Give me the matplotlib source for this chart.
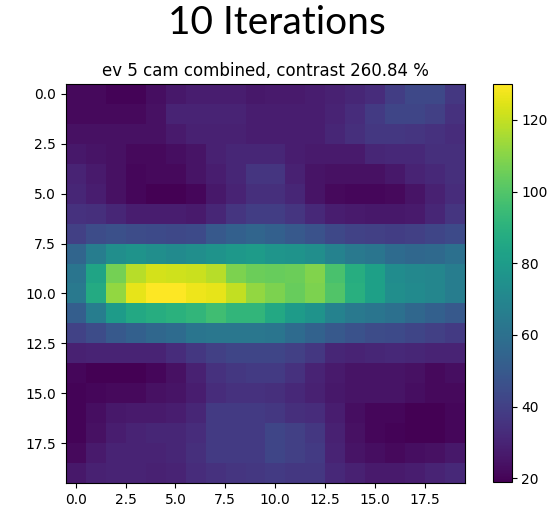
import numpy as np
import matplotlib
matplotlib.use("Agg")
import matplotlib.pyplot as plt

# per-pixel intensity (rows top to bottom)
counts = [
    [22, 22, 20, 20, 23, 26, 28, 28, 28, 26, 27, 27, 28, 29, 31, 33, 39, 43, 43, 37],
    [22, 22, 22, 22, 24, 30, 30, 30, 30, 28, 28, 28, 28, 30, 33, 38, 42, 42, 40, 35],
    [24, 24, 24, 24, 24, 27, 29, 29, 29, 28, 28, 28, 28, 31, 34, 37, 37, 36, 35, 33],
    [26, 25, 24, 22, 22, 23, 25, 29, 31, 31, 31, 28, 27, 27, 27, 31, 32, 32, 34, 34],
    [30, 27, 24, 21, 22, 22, 25, 28, 31, 36, 36, 29, 25, 24, 24, 24, 26, 30, 32, 34],
    [31, 28, 24, 21, 19, 19, 21, 26, 30, 34, 34, 31, 25, 22, 21, 21, 22, 25, 29, 33],
    [35, 34, 31, 28, 28, 28, 27, 31, 36, 39, 39, 36, 32, 28, 27, 26, 26, 27, 31, 36],
    [40, 45, 46, 45, 44, 43, 44, 50, 53, 55, 53, 50, 47, 43, 41, 40, 39, 40, 42, 44],
    [55, 66, 74, 76, 74, 72, 74, 76, 78, 80, 77, 76, 74, 68, 64, 62, 58, 56, 57, 60],
    [62, 84, 107, 118, 123, 122, 121, 118, 108, 105, 104, 105, 109, 98, 88, 82, 73, 71, 70, 66],
    [64, 87, 112, 126, 130, 130, 127, 126, 120, 112, 108, 104, 108, 100, 89, 82, 74, 72, 70, 66],
    [52, 66, 80, 86, 88, 90, 92, 96, 92, 92, 86, 80, 76, 68, 64, 62, 60, 56, 53, 50],
    [41, 45, 50, 53, 56, 58, 62, 63, 63, 63, 62, 58, 54, 50, 47, 45, 44, 42, 40, 38],
    [29, 30, 30, 30, 30, 33, 37, 40, 42, 42, 42, 40, 37, 31, 30, 31, 32, 31, 30, 30],
    [21, 19, 19, 19, 21, 24, 29, 35, 37, 38, 38, 35, 30, 27, 25, 25, 25, 24, 22, 23],
    [20, 21, 22, 22, 24, 25, 28, 33, 35, 35, 34, 32, 29, 26, 25, 25, 25, 23, 22, 22],
    [20, 23, 26, 27, 27, 28, 31, 38, 38, 38, 37, 34, 33, 28, 23, 21, 21, 19, 19, 21],
    [20, 24, 28, 30, 31, 31, 33, 38, 38, 38, 42, 40, 37, 29, 24, 21, 20, 19, 19, 21],
    [22, 27, 30, 30, 30, 31, 34, 38, 38, 38, 42, 40, 38, 30, 25, 23, 22, 23, 24, 26],
    [26, 29, 30, 30, 29, 30, 33, 35, 36, 37, 38, 37, 37, 32, 29, 27, 27, 28, 30, 32],
]
cbar_ticks = [20, 40, 60, 80, 100, 120]

img = np.array(counts, dtype=float)

fig = plt.figure(figsize=(5.53, 5.07), dpi=100)
ax = fig.add_axes([0.1188, 0.0473, 0.7215, 0.787])
im = ax.imshow(img, cmap="viridis", vmin=19, vmax=130)
ax.set_title("ev 5 cam combined, contrast 260.84 %", fontsize=12)

cax = fig.add_axes([0.891, 0.0493, 0.0344, 0.785])
cb = fig.colorbar(im, cax=cax)
cb.set_ticks(cbar_ticks)

fig.suptitle("10 Iterations", fontsize=28, family="Lato", y=0.99)

fig.savefig("out.png", dpi=100)
